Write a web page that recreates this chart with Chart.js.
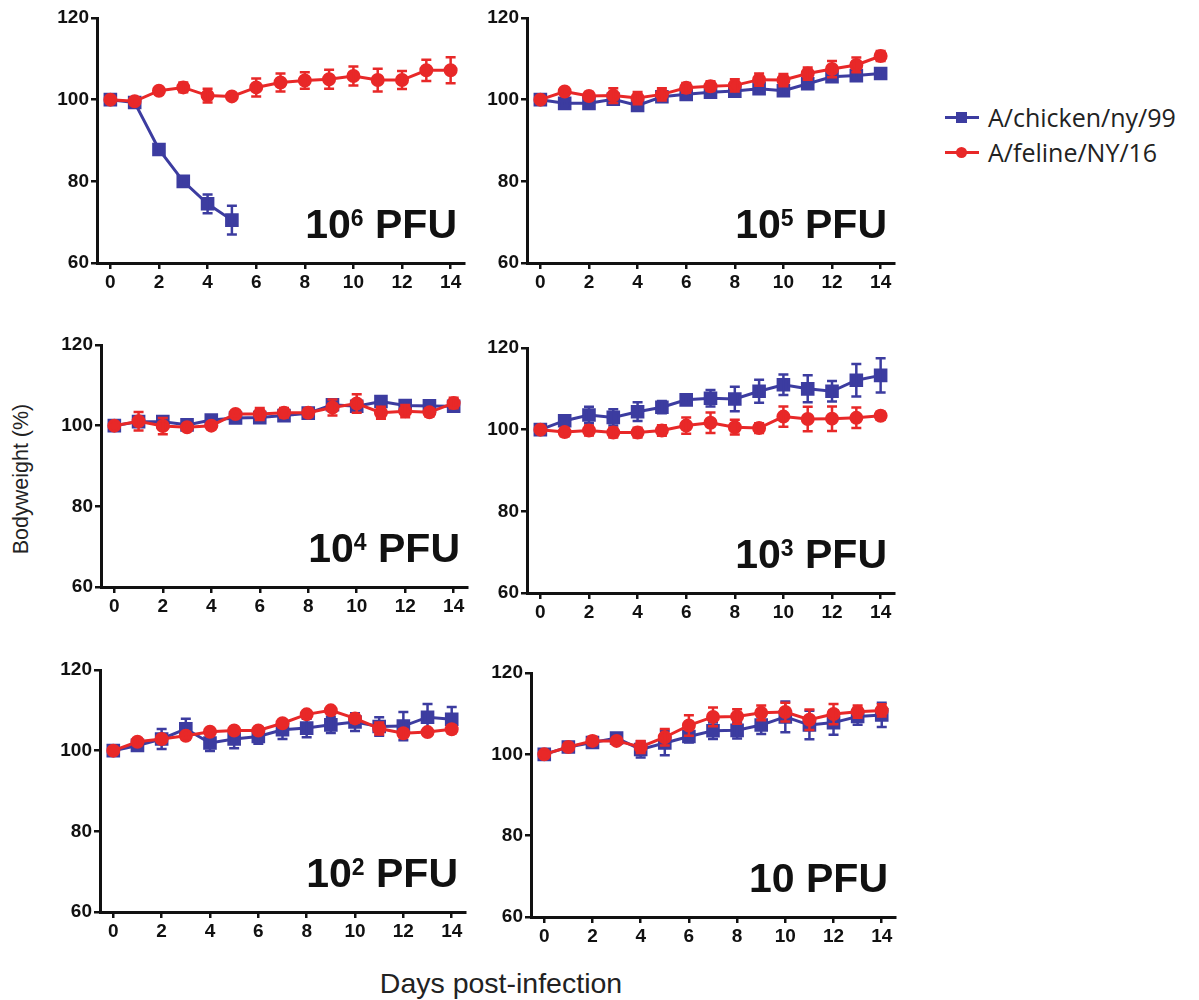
<!DOCTYPE html>
<html>
<head>
<meta charset="utf-8">
<script src="https://cdn.jsdelivr.net/npm/chart.js@4"></script>
<style>
  body { margin: 0; background: #fff; width: 1199px; height: 1000px; position: relative; overflow: hidden; }
  .panel { position: absolute; }
  .legend { position: absolute; left: 945px; top: 100px; font-family: "Open Sans", Lato, sans-serif; font-size: 25px; color: #222; }
  .legend .row { position: relative; height: 35px; line-height: 35px; padding-left: 43px; white-space: nowrap; }
  .legend .line { position: absolute; left: 0; top: 16px; width: 34px; height: 3px; }
  .legend .mark { position: absolute; left: 11px; top: 12px; width: 11px; height: 11px; }
  .ytitle { position: absolute; left: 21px; top: 479px; transform: translate(-50%, -50%) rotate(-90deg); font-family: "Liberation Sans", Arial, sans-serif; font-size: 21.5px; color: #222; white-space: nowrap; }
  .xtitle { position: absolute; left: 501px; top: 983px; transform: translate(-50%, -50%); font-family: "Liberation Sans", Arial, sans-serif; font-size: 28.5px; color: #222; white-space: nowrap; }
</style>
</head>
<body>
<div class="legend">
  <div class="row"><span class="line" style="background:#3c3ca0"></span><span class="mark" style="background:#3c3ca0"></span>A/chicken/ny/99</div>
  <div class="row"><span class="line" style="background:#e82828"></span><span class="mark" style="background:#e82828;border-radius:50%"></span>A/feline/NY/16</div>
</div>
<div class="ytitle">Bodyweight (%)</div>
<div class="xtitle">Days post-infection</div>

<script>
// days post-infection and tick labels
const days = [0, 1, 2, 3, 4, 5, 6, 7, 8, 9, 10, 11, 12, 13, 14];
const xTicks = [0, 2, 4, 6, 8, 10, 12, 14];
const yTicks = [60, 80, 100, 120];
const doseLabels = [['10', '6'], ['10', '5'], ['10', '4'], ['10', '3'], ['10', '2'], ['10', '']];

// 10^6 PFU
const chicken6 = [100, 99.3, 87.8, 80, 74.5, 70.5, null, null, null, null, null, null, null, null, null];
const chicken6Err = [0.3, 0.5, 1.2, 0.8, 2.3, 3.5, null, null, null, null, null, null, null, null, null];
const feline6 = [100, 99.6, 102.2, 103, 101, 100.8, 103, 104.2, 104.7, 105, 105.8, 104.8, 104.8, 107.2, 107.2];
const feline6Err = [0.3, 0.8, 0.8, 1.2, 1.7, 0.8, 2.2, 2.2, 2, 2.3, 2.3, 2.8, 2.2, 2.6, 3.2];

// 10^5 PFU
const chicken5 = [100, 99.1, 99.1, 100.1, 98.6, 100.7, 101.3, 101.8, 102.1, 102.7, 102.2, 103.9, 105.6, 105.9, 106.4];
const chicken5Err = [0.3, 0.5, 0.5, 1, 0.8, 0.8, 0.8, 0.8, 0.8, 1, 1, 0.8, 0.8, 0.6, 0.8];
const feline5 = [100, 102, 100.9, 101, 100.4, 101.3, 102.9, 103.3, 103.5, 104.9, 104.8, 106.4, 107.5, 108.5, 110.7];
const feline5Err = [0.3, 0.8, 1, 1.8, 1.5, 1.5, 1.2, 1.2, 1.5, 1.5, 1.5, 1.5, 2, 1.8, 1.2];

// 10^4 PFU
const chicken4 = [100, 101, 101, 100.2, 101.4, 101.9, 102, 102.5, 103.1, 105.2, 104.8, 106, 105, 104.9, 104.8];
const chicken4Err = [0.3, 1, 1, 0.5, 0.5, 0.8, 0.8, 0.8, 0.8, 1, 1.3, 0.5, 1, 0.5, 0.8];
const feline4 = [100, 101.1, 99.9, 99.6, 100, 102.9, 102.9, 103.2, 103.2, 104.5, 105.5, 103.2, 103.6, 103.3, 105.6];
const feline4Err = [0.3, 2.3, 2, 0.5, 0.8, 0.5, 1.5, 1.2, 1, 2, 2.3, 1.5, 1.5, 1, 1.3];

// 10^3 PFU
const chicken3 = [100, 102.2, 103.6, 103, 104.4, 105.5, 107.3, 107.7, 107.5, 109.4, 111, 110, 109.4, 112.1, 113.3];
const chicken3Err = [0.3, 0.5, 2, 2, 2.3, 1.5, 0.8, 2, 3, 2.8, 2.5, 3.3, 2.5, 4, 4.2];
const feline3 = [100, 99.4, 99.8, 99.3, 99.3, 99.8, 101, 101.7, 100.6, 100.4, 103.2, 102.6, 102.7, 102.9, 103.4];
const feline3Err = [0.3, 1, 1.2, 1.2, 1.2, 1.3, 2, 2.5, 1.8, 1.2, 2.5, 3, 3, 2.5, 1];

// 10^2 PFU
const chicken2 = [100, 101.3, 102.9, 105.4, 101.9, 102.9, 103.5, 105.2, 105.6, 106.4, 107.1, 106, 106.1, 108.3, 107.8];
const chicken2Err = [0.3, 0.8, 2.5, 2.5, 2, 2.3, 1.8, 2.3, 2.3, 2, 2.2, 2.3, 3.5, 3.3, 3];
const feline2 = [100, 102.2, 102.9, 103.7, 104.7, 105, 105, 106.8, 109, 110, 108, 105.5, 104.3, 104.6, 105.3];
const feline2Err = [0.3, 0.8, 0.5, 0.5, 0.5, 0.8, 0.8, 0.5, 0.5, 0.5, 1, 1.5, 1, 0.5, 1];

// 10 PFU
const chicken1 = [100, 101.8, 102.9, 104, 101.2, 102.8, 104.4, 105.8, 105.9, 107.2, 109.2, 107.2, 107.8, 109.3, 109.7];
const chicken1Err = [0.3, 0.5, 1, 1, 2, 3, 1.5, 2, 2, 2.2, 3.8, 3.5, 3, 2, 3];
const feline1 = [100, 101.8, 103.3, 103.3, 101.8, 104.2, 107.1, 109.2, 109.3, 110.2, 110.4, 108.5, 109.9, 110.5, 110.8];
const feline1Err = [0.3, 0.5, 1, 0.5, 1.5, 2, 2.5, 2.3, 1.8, 1.8, 2.3, 2.5, 2.5, 1.5, 1.5];

const chickenSeries = [chicken6, chicken5, chicken4, chicken3, chicken2, chicken1];
const chickenErrs = [chicken6Err, chicken5Err, chicken4Err, chicken3Err, chicken2Err, chicken1Err];
const felineSeries = [feline6, feline5, feline4, feline3, feline2, feline1];
const felineErrs = [feline6Err, feline5Err, feline4Err, feline3Err, feline2Err, feline1Err];

// axis box of each panel on the page: left, top, right, bottom
const boxes = [
  [97, 18, 464, 263], [527, 18, 894, 263],
  [101, 345, 467, 587], [527, 348, 894, 593],
  [100, 670, 465, 912], [531, 673, 895, 917]
];

const BLUE = '#3c3ca0';
const RED = '#e82828';
const INK = '#111';
const PAD_L = 57, PAD_T = 18, PAD_R = 16, PAD_B = 37;
const LABEL_FONT = '"Liberation Sans", Arial, sans-serif';

// vertical SEM bars, drawn right after each dataset so layering follows the lines
const errorBars = {
  id: 'errorBars',
  afterDatasetDraw(chart, args) {
    const ds = chart.data.datasets[args.index];
    if (!ds.errors) return;
    const ctx = chart.ctx;
    const y = chart.scales.y;
    ctx.save();
    ctx.strokeStyle = ds.borderColor;
    ctx.lineWidth = 2.5;
    args.meta.data.forEach((pt, i) => {
      const v = ds.data[i].y, e = ds.errors[i];
      if (v == null || e == null) return;
      const top = y.getPixelForValue(v + e), bot = y.getPixelForValue(v - e);
      ctx.beginPath();
      ctx.moveTo(pt.x, top); ctx.lineTo(pt.x, bot);
      ctx.moveTo(pt.x - 5, top); ctx.lineTo(pt.x + 5, top);
      ctx.moveTo(pt.x - 5, bot); ctx.lineTo(pt.x + 5, bot);
      ctx.stroke();
    });
    ctx.restore();
  }
};

const doseText = {
  id: 'doseText',
  afterDraw(chart, args, opts) {
    const ctx = chart.ctx;
    const a = chart.chartArea;
    const base = opts.label[0], sup = opts.label[1];
    const big = 'bold 41px ' + LABEL_FONT, small = 'bold 23px ' + LABEL_FONT;
    ctx.save();
    ctx.fillStyle = INK;
    ctx.textBaseline = 'alphabetic';
    ctx.font = big;
    const wBase = ctx.measureText(base).width;
    const wRest = ctx.measureText(' PFU').width;
    ctx.font = small;
    const wSup = sup ? ctx.measureText(sup).width : 0;
    const right = a.right - 7, baseline = a.bottom - 25;
    let x = right - wBase - wSup - wRest;
    ctx.font = big;
    ctx.fillText(base, x, baseline);
    x += wBase;
    if (sup) {
      ctx.font = small;
      ctx.fillText(sup, x, baseline - 12);
      x += wSup;
    }
    ctx.font = big;
    ctx.fillText(' PFU', x, baseline);
    ctx.restore();
  }
};

function makePanel(i) {
  const [l, t, r, b] = boxes[i];
  const div = document.createElement('div');
  div.className = 'panel';
  div.style.left = (l - PAD_L) + 'px';
  div.style.top = (t - PAD_T) + 'px';
  div.style.width = (r - l + PAD_L + PAD_R) + 'px';
  div.style.height = (b - t + PAD_T + PAD_B) + 'px';
  const canvas = document.createElement('canvas');
  div.appendChild(canvas);
  document.body.appendChild(div);

  const tickFont = { family: LABEL_FONT, size: 19, weight: 'bold' };

  new Chart(canvas, {
    type: 'line',
    data: {
      datasets: [
        {
          label: 'A/feline/NY/16',
          data: felineSeries[i].map((v, k) => ({ x: days[k], y: v })),
          errors: felineErrs[i],
          borderColor: RED, backgroundColor: RED,
          pointStyle: 'circle', pointRadius: 5.5, borderWidth: 3,
          order: 0
        },
        {
          label: 'A/chicken/ny/99',
          data: chickenSeries[i].map((v, k) => ({ x: days[k], y: v })),
          errors: chickenErrs[i],
          borderColor: BLUE, backgroundColor: BLUE,
          pointStyle: 'rect', pointRadius: 7.5, borderWidth: 3,
          order: 1
        }
      ]
    },
    plugins: [errorBars, doseText],
    options: {
      responsive: true,
      maintainAspectRatio: false,
      animation: false,
      layout: { padding: { top: PAD_T, right: PAD_R, left: 0, bottom: 0 } },
      elements: { line: { tension: 0 } },
      plugins: {
        legend: { display: false },
        tooltip: { enabled: false },
        doseText: { label: doseLabels[i] }
      },
      scales: {
        x: {
          type: 'linear',
          min: -0.55, max: 14.55,
          afterBuildTicks(s) { s.ticks = xTicks.map(v => ({ value: v })); },
          afterFit(s) { s.height = PAD_B; },
          border: { display: true, color: INK, width: 3 },
          grid: { drawOnChartArea: false, drawTicks: true, tickLength: 6, color: INK, lineWidth: 2.5 },
          ticks: { color: INK, font: tickFont, padding: 2, maxRotation: 0 }
        },
        y: {
          min: 60, max: 120,
          afterBuildTicks(s) { s.ticks = yTicks.map(v => ({ value: v })); },
          afterFit(s) { s.width = PAD_L; },
          border: { display: true, color: INK, width: 3 },
          grid: { drawOnChartArea: false, drawTicks: true, tickLength: 6, color: INK, lineWidth: 2.5 },
          ticks: { color: INK, font: tickFont, padding: 2 }
        }
      }
    }
  });
}

for (let i = 0; i < 6; i++) makePanel(i);
</script>
</body>
</html>
